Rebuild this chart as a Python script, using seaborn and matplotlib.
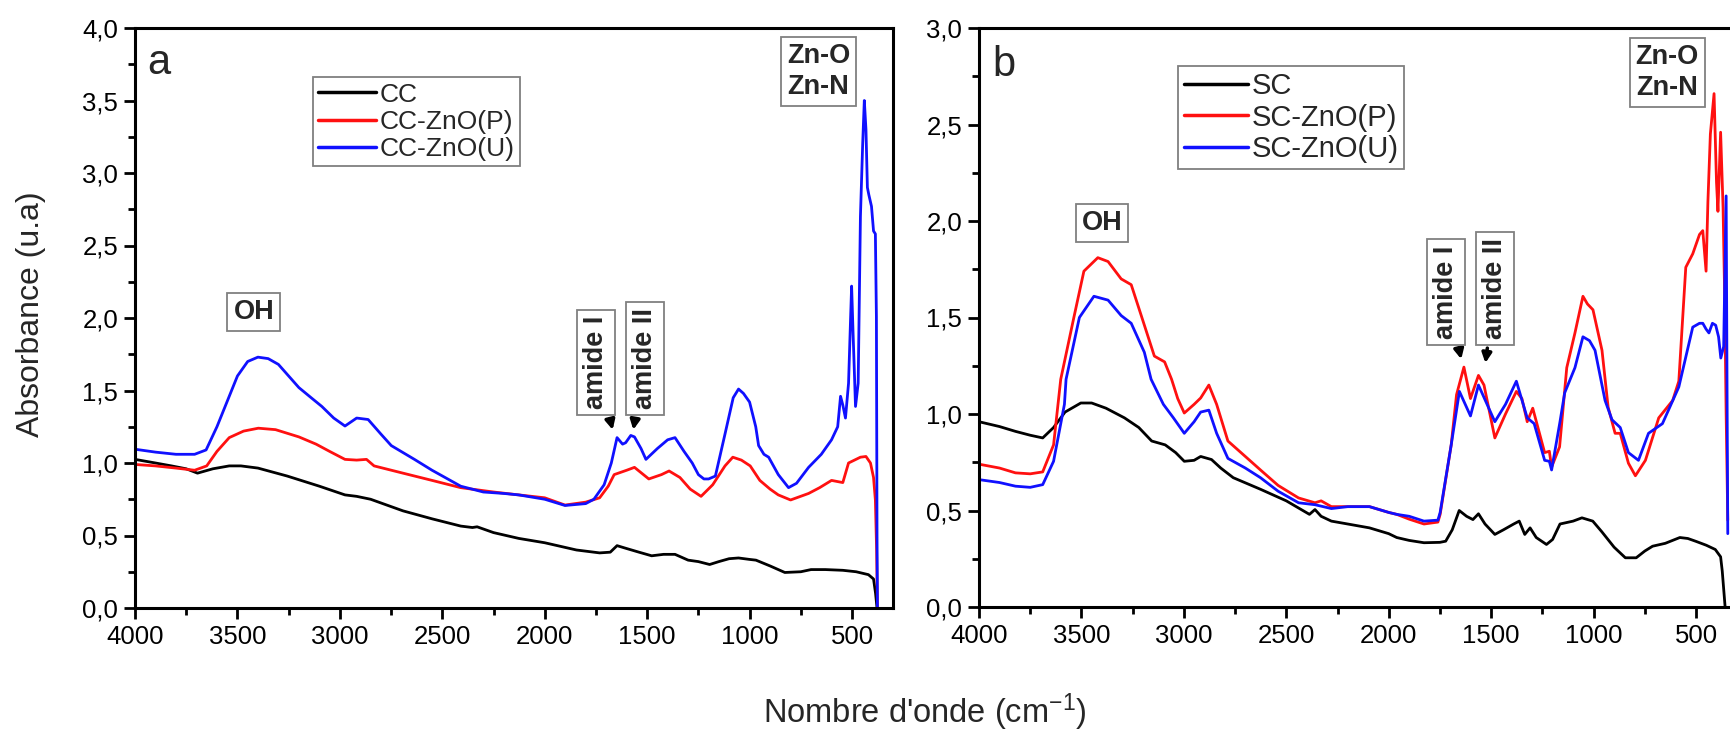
import numpy as np
import pandas as pd
import matplotlib
matplotlib.use('Agg')
import matplotlib.pyplot as plt
from matplotlib.ticker import MultipleLocator, FuncFormatter
import seaborn as sns

# spectres FTIR (nombre d'onde, absorbance)
# panneau a
cc_x = [4000, 3900, 3822, 3750, 3695, 3620, 3540, 3483, 3400, 3257, 3100, 2975, 2918, 2850, 2692, 2550,
        2410, 2353, 2330, 2250, 2127, 2000, 1845, 1732, 1680, 1647, 1600, 1540, 1478, 1420, 1364, 1300,
        1250, 1195, 1150, 1100, 1054, 1000, 969, 900, 828, 750, 700, 630, 545, 480, 420, 395, 385, 378]
cc_y = [1.025, 1.0, 0.98, 0.96, 0.93, 0.96, 0.98, 0.98, 0.965, 0.91, 0.84, 0.78, 0.77, 0.75, 0.67, 0.615,
        0.565, 0.555, 0.56, 0.52, 0.48, 0.45, 0.40, 0.38, 0.385, 0.43, 0.41, 0.385, 0.36, 0.37, 0.37, 0.33,
        0.32, 0.30, 0.32, 0.34, 0.345, 0.335, 0.33, 0.29, 0.245, 0.25, 0.265, 0.265, 0.26, 0.25, 0.23, 0.2, 0.1, 0.0]

ccp_x = [4000, 3900, 3800, 3709, 3650, 3600, 3540, 3470, 3398, 3314, 3200, 3116, 3050, 2975, 2918, 2870,
         2833, 2692, 2550, 2410, 2250, 2127, 2000, 1901, 1800, 1732, 1690, 1661, 1600, 1562, 1492, 1430,
         1393, 1340, 1290, 1237, 1180, 1120, 1082, 1040, 997, 950, 900, 860, 800, 712, 658, 600, 545, 517,
         459, 432, 410, 395, 386, 380, 376]
ccp_y = [0.99, 0.98, 0.965, 0.95, 0.98, 1.08, 1.175, 1.22, 1.24, 1.23, 1.18, 1.13, 1.08, 1.025, 1.02, 1.025,
         0.98, 0.93, 0.88, 0.83, 0.80, 0.78, 0.76, 0.71, 0.73, 0.76, 0.84, 0.92, 0.95, 0.97, 0.89, 0.92,
         0.945, 0.90, 0.82, 0.77, 0.85, 0.98, 1.04, 1.02, 0.98, 0.88, 0.82, 0.78, 0.745, 0.79, 0.83, 0.88, 0.865, 1.0,
         1.04, 1.045, 1.0, 0.9, 0.745, 0.4, 0.0]

ccu_x = [4000, 3900, 3800, 3709, 3653, 3600, 3540, 3500, 3450, 3400, 3350, 3300, 3250, 3200, 3140, 3088,
         3030, 2975, 2918, 2862, 2800, 2749, 2636, 2550, 2410, 2300, 2200, 2127, 2000, 1901, 1800, 1760,
         1710, 1675, 1647, 1620, 1605, 1580, 1562, 1530, 1506, 1450, 1400, 1364, 1320, 1280, 1250, 1223,
         1200, 1167, 1120, 1080, 1054, 1030, 1000, 970, 956, 930, 907, 860, 810, 771, 712, 650, 600, 570,
         556, 545, 532, 517, 507, 502, 495, 483, 470, 459, 448, 440, 432, 425, 418, 405, 395, 386, 381, 378, 376]
ccu_y = [1.095, 1.075, 1.06, 1.06, 1.09, 1.25, 1.46, 1.60, 1.70, 1.73, 1.72, 1.68, 1.60, 1.52, 1.45, 1.39,
         1.31, 1.255, 1.31, 1.30, 1.20, 1.12, 1.025, 0.95, 0.84, 0.80, 0.79, 0.78, 0.75, 0.707, 0.72, 0.75,
         0.85, 1.00, 1.175, 1.13, 1.14, 1.19, 1.18, 1.10, 1.025, 1.10, 1.16, 1.175, 1.08, 1.00, 0.92, 0.89,
         0.89, 0.91, 1.20, 1.45, 1.51, 1.48, 1.42, 1.25, 1.12, 1.06, 1.04, 0.92, 0.83, 0.86, 0.97, 1.06, 1.16, 1.25,
         1.46, 1.40, 1.31, 1.55, 2.0, 2.22, 1.9, 1.39, 1.55, 2.70, 3.2, 3.50, 3.3, 2.90, 2.85, 2.77, 2.6, 2.58, 2.01, 0.5, 0.0]

# panneau b
sc_x = [4000, 3900, 3822, 3750, 3689, 3636, 3580, 3503, 3450, 3380, 3290, 3220, 3157, 3091, 3040, 2998,
        2950, 2918, 2865, 2820, 2759, 2626, 2500, 2387, 2360, 2330, 2280, 2200, 2094, 2000, 1961, 1900,
        1828, 1750, 1722, 1690, 1656, 1620, 1589, 1562, 1530, 1482, 1440, 1390, 1363, 1336, 1310, 1280,
        1230, 1200, 1164, 1100, 1057, 1004, 960, 900, 845, 792, 750, 712, 650, 579, 540, 500, 450, 406,
        380, 372, 358]
sc_y = [0.96, 0.935, 0.91, 0.89, 0.876, 0.93, 1.01, 1.057, 1.057, 1.03, 0.98, 0.93, 0.86, 0.84, 0.80, 0.755,
        0.76, 0.78, 0.764, 0.72, 0.67, 0.61, 0.55, 0.48, 0.505, 0.47, 0.445, 0.43, 0.41, 0.38, 0.36, 0.345,
        0.333, 0.335, 0.341, 0.40, 0.50, 0.47, 0.453, 0.483, 0.43, 0.376, 0.40, 0.43, 0.445, 0.376, 0.41, 0.36,
        0.324, 0.35, 0.43, 0.445, 0.462, 0.445, 0.39, 0.31, 0.255, 0.255, 0.29, 0.315, 0.33, 0.36, 0.355, 0.34,
        0.32, 0.298, 0.26, 0.186, 0.0]

scp_x = [4000, 3900, 3822, 3750, 3689, 3636, 3601, 3537, 3488, 3420, 3370, 3306, 3257, 3208, 3144, 3094,
         3060, 3030, 2998, 2950, 2918, 2878, 2840, 2785, 2700, 2626, 2540, 2440, 2360, 2330, 2280, 2200,
         2094, 2000, 1961, 1900, 1828, 1760, 1749, 1695, 1669, 1633, 1601, 1562, 1535, 1482, 1430, 1377,
         1350, 1324, 1297, 1239, 1216, 1205, 1166, 1131, 1091, 1052, 1030, 1003, 959, 929, 895, 870, 830,
         796, 747, 682, 614, 584, 550, 516, 483, 467, 451, 442, 430, 412, 400, 393, 380, 368, 360, 353, 345]
scp_y = [0.74, 0.72, 0.695, 0.69, 0.70, 0.84, 1.18, 1.50, 1.74, 1.81, 1.79, 1.70, 1.67, 1.51, 1.30, 1.27,
         1.18, 1.08, 1.005, 1.05, 1.083, 1.15, 1.05, 0.86, 0.78, 0.71, 0.63, 0.565, 0.54, 0.55, 0.52, 0.52,
         0.52, 0.49, 0.48, 0.455, 0.43, 0.44, 0.48, 0.84, 1.10, 1.243, 1.08, 1.20, 1.15, 0.876, 1.0, 1.117,
         1.08, 0.96, 1.03, 0.80, 0.807, 0.725, 0.83, 1.24, 1.42, 1.61, 1.57, 1.54, 1.33, 1.035, 0.90, 0.90, 0.745,
         0.68, 0.76, 0.98, 1.07, 1.17, 1.76, 1.83, 1.93, 1.95, 1.74, 2.10, 2.45, 2.66, 2.2, 2.05, 2.46, 2.07, 1.6, 1.0, 0.45]

scu_x = [4000, 3900, 3822, 3750, 3689, 3636, 3583, 3575, 3510, 3439, 3370, 3306, 3257, 3193, 3160, 3100,
         3051, 2998, 2950, 2918, 2878, 2840, 2785, 2700, 2626, 2540, 2440, 2360, 2280, 2200, 2094, 2000,
         1961, 1900, 1828, 1760, 1749, 1695, 1655, 1601, 1562, 1482, 1430, 1377, 1324, 1290, 1239, 1216,
         1205, 1164, 1141, 1091, 1052, 1020, 993, 944, 910, 870, 830, 781, 732, 664, 584, 516, 483, 467,
         451, 437, 420, 404, 390, 379, 365, 353, 348, 345]
scu_y = [0.66, 0.645, 0.626, 0.62, 0.634, 0.755, 1.05, 1.18, 1.50, 1.61, 1.59, 1.51, 1.47, 1.32, 1.18, 1.05,
         0.98, 0.90, 0.96, 1.01, 1.02, 0.90, 0.77, 0.72, 0.67, 0.60, 0.54, 0.53, 0.51, 0.52, 0.52, 0.49,
         0.48, 0.47, 0.445, 0.45, 0.49, 0.84, 1.117, 0.99, 1.15, 0.96, 1.05, 1.17, 0.98, 0.95, 0.76, 0.755,
         0.71, 0.96, 1.11, 1.24, 1.40, 1.38, 1.33, 1.07, 0.97, 0.93, 0.80, 0.76, 0.90, 0.95, 1.14, 1.45, 1.47, 1.47,
         1.44, 1.42, 1.47, 1.46, 1.40, 1.29, 1.35, 2.13, 1.0, 0.38]

labels_a = ['CC', 'CC-ZnO(P)', 'CC-ZnO(U)']
labels_b = ['SC', 'SC-ZnO(P)', 'SC-ZnO(U)']
couleurs = ['black', '#ff1010', '#1010ff']


def long_df(xs, ys, labels):
    parts = []
    for x, y, lab in zip(xs, ys, labels):
        parts.append(pd.DataFrame({'nu': x, 'abs': y, 'echantillon': lab}))
    return pd.concat(parts, ignore_index=True)


df_a = long_df([cc_x, ccp_x, ccu_x], [cc_y, ccp_y, ccu_y], labels_a)
df_b = long_df([sc_x, scp_x, scu_x], [sc_y, scp_y, scu_y], labels_b)

sns.set_style('white')
plt.rcParams['font.family'] = ['Liberation Sans', 'DejaVu Sans']
plt.rcParams['mathtext.default'] = 'regular'

fig = plt.figure(figsize=(17.3, 7.3), dpi=100)
ax_a = fig.add_axes([135 / 1730, 122 / 730, 758 / 1730, 580 / 730])
ax_b = fig.add_axes([979 / 1730, 123 / 730, 758 / 1730, 579 / 730])

virgule = FuncFormatter(lambda v, p: f'{v:.1f}'.replace('.', ','))
boite = dict(boxstyle='square,pad=0.22', fc='white', ec='#808080', lw=1.3)
fleche = dict(arrowstyle='-|>', color='black', lw=2.5, mutation_scale=14, shrinkA=2, shrinkB=2)
police = dict(fontsize=19.5, fontweight='bold')

for ax, df, labs, ymax, pos, fs in [(ax_a, df_a, labels_a, 4.0, (0.235, 0.915), 19),
                                    (ax_b, df_b, labels_b, 3.0, (0.2625, 0.934), 21)]:
    sns.lineplot(data=df, x='nu', y='abs', hue='echantillon', hue_order=labs,
                 palette=dict(zip(labs, couleurs)), sort=False, estimator=None,
                 linewidth=2.0, ax=ax)
    ax.set_xlim(4000, 300)
    ax.set_ylim(0, ymax)
    ax.xaxis.set_major_locator(MultipleLocator(500))
    ax.xaxis.set_minor_locator(MultipleLocator(250))
    ax.yaxis.set_major_locator(MultipleLocator(0.5))
    ax.yaxis.set_minor_locator(MultipleLocator(0.25))
    ax.yaxis.set_major_formatter(virgule)
    ax.set_xticks([4000, 3500, 3000, 2500, 2000, 1500, 1000, 500])
    ax.tick_params(which='both', direction='out', width=2, bottom=True, left=True,
                   top=False, right=False, labelsize=18.5, colors='black', pad=4)
    ax.tick_params(which='major', length=8)
    ax.tick_params(which='minor', length=5)
    for s in ax.spines.values():
        s.set_linewidth(2.2)
        s.set_color('black')
    ax.set_xlabel('')
    ax.set_ylabel('')
    leg = ax.legend(loc='upper left', bbox_to_anchor=pos,
                    fontsize=fs, frameon=True, fancybox=False, edgecolor='#606060',
                    handlelength=2.2, handletextpad=0.12, borderpad=0.2, labelspacing=0.12,
                    borderaxespad=0)
    leg.get_frame().set_linewidth(1.3)
    for ln in leg.get_lines():
        ln.set_linewidth(2.5)

# panneau a : annotations
ax_a.text(0.016, 0.92, 'a', transform=ax_a.transAxes, fontsize=30, va='baseline')
ax_a.text(3420, 2.04, 'OH', ha='center', va='center', bbox=boite, **police)
ax_a.text(663, 3.70, 'Zn-O\nZn-N', ha='center', va='center', linespacing=1.25, bbox=boite, **police)
ax_a.annotate('amide I', xy=(1665, 1.21), xytext=(1750, 1.37), rotation=90, ha='center', va='bottom',
              bbox=boite, arrowprops=fleche, **police)
ax_a.annotate('amide II', xy=(1570, 1.21), xytext=(1510, 1.37), rotation=90, ha='center', va='bottom',
              bbox=boite, arrowprops=fleche, **police)

# panneau b : annotations
ax_b.text(0.018, 0.917, 'b', transform=ax_b.transAxes, fontsize=30, va='baseline')
ax_b.text(3400, 1.99, 'OH', ha='center', va='center', bbox=boite, **police)
ax_b.text(641, 2.77, 'Zn-O\nZn-N', ha='center', va='center', linespacing=1.25, bbox=boite, **police)
ax_b.annotate('amide I', xy=(1643, 1.27), xytext=(1721, 1.39), rotation=90, ha='center', va='bottom',
              bbox=boite, arrowprops=fleche, **police)
ax_b.annotate('amide II', xy=(1530, 1.25), xytext=(1480, 1.39), rotation=90, ha='center', va='bottom',
              bbox=boite, arrowprops=fleche, **police)

fig.text(31 / 1730, 1 - 314 / 730, 'Absorbance (u.a)', rotation=90, ha='center', va='center', fontsize=23)
fig.text(925 / 1730, 1 - 712 / 730, "Nombre d'onde (cm$^{-1}$)", ha='center', va='center', fontsize=23.5)

fig.savefig('out.png', dpi=100)
